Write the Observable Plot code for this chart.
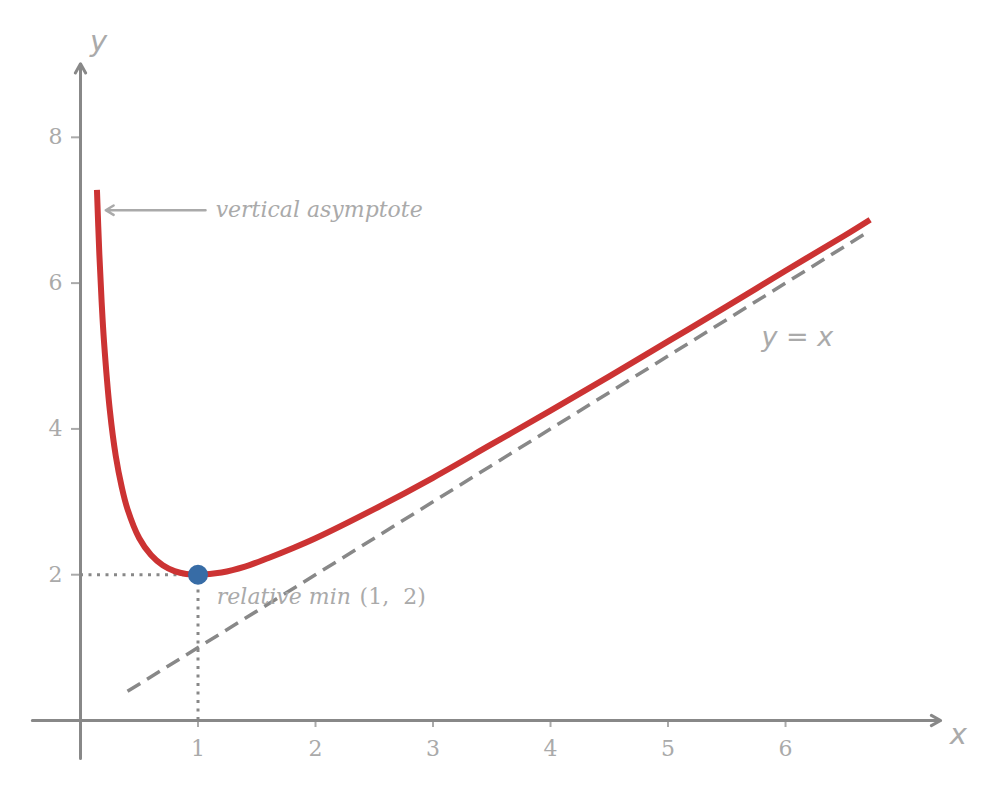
<!DOCTYPE html>
<html>
<head>
<meta charset="utf-8">
<script src="https://cdn.jsdelivr.net/npm/d3@7"></script>
<script src="https://cdn.jsdelivr.net/npm/@observablehq/plot@0.6"></script>
<style>
  html, body { margin: 0; padding: 0; background: #fff; }
  #chart svg { display: block; }
</style>
</head>
<body>
<div id="chart"></div>
<script>
// Curve f(x)
const curveX = [0.14, 0.16, 0.18, 0.20, 0.25, 0.30, 0.35, 0.40, 0.50, 0.60, 0.70, 0.80, 0.90, 1.00, 1.20, 1.40, 1.60, 1.80, 2.00, 2.50, 3.00, 3.50, 4.00, 4.50, 5.00, 5.50, 6.00, 6.50, 6.72];
const curveY = [7.28, 6.41, 5.74, 5.20, 4.25, 3.63, 3.21, 2.90, 2.50, 2.27, 2.13, 2.05, 2.01, 2.00, 2.03, 2.11, 2.23, 2.36, 2.50, 2.90, 3.33, 3.79, 4.25, 4.72, 5.20, 5.68, 6.17, 6.65, 6.87];
// Oblique asymptote y = x (endpoints)
const asymX = [0.40, 6.72];
const asymY = [0.40, 6.72];
// Relative minimum
const minPoint = {x: 1, y: 2};
// Ticks
const xTicks = [1, 2, 3, 4, 5, 6];
const yTicks = [2, 4, 6, 8];
// Labels
const asymptoteLabel = "vertical asymptote";
const minLabel = "relative min";
const minCoords = "(1,\u00a0 2)";
const lineLabel = "y = x";

const curve = curveX.map((x, i) => ({x, y: curveY[i]}));
const asym = asymX.map((x, i) => ({x, y: asymY[i]}));

const grey = "#888";
const light = "#aaa";
const sans = "DejaVu Sans";
const serif = "DejaVu Serif";

const plot = Plot.plot({
  width: 1001,
  height: 792,
  marginLeft: 80,
  marginRight: 0,
  marginTop: 0,
  marginBottom: 72,
  x: {domain: [0, 7.838]},
  y: {domain: [0, 9.877]},
  style: {fontFamily: serif, background: "#fff"},
  marks: [
    // dotted guides to the minimum
    Plot.ruleY([minPoint], {y: "y", x1: 0, x2: "x", stroke: grey, strokeWidth: 3, strokeDasharray: "3,5.5"}),
    Plot.ruleX([minPoint], {x: "x", y1: 0, y2: "y", stroke: grey, strokeWidth: 3, strokeDasharray: "3,5.5"}),
    // tick marks
    Plot.axisX({ticks: xTicks, anchor: "bottom", tickSize: 7, stroke: light, strokeWidth: 2, tickFormat: () => ""}),
    Plot.axisY({ticks: yTicks, anchor: "left", tickSize: 9, stroke: light, strokeWidth: 2, tickFormat: () => ""}),
    // tick labels
    Plot.text(xTicks, {x: d => d, y: 0, dy: 28, text: d => String(d), fontSize: 22, fill: light, fontFamily: serif}),
    Plot.text(yTicks, {x: 0, y: d => d, dx: -25, text: d => String(d), fontSize: 22, fill: light, fontFamily: serif}),
    // axes lines with arrow heads
    Plot.arrow([{x1: -0.41, y1: 0, x2: 7.32, y2: 0}], {x1: "x1", y1: "y1", x2: "x2", y2: "y2", stroke: grey, strokeWidth: 3, headLength: 5.3, headAngle: 58}),
    Plot.arrow([{x1: 0, y1: -0.52, x2: 0, y2: 9.01}], {x1: "x1", y1: "y1", x2: "x2", y2: "y2", stroke: grey, strokeWidth: 3, headLength: 5.3, headAngle: 58}),
    // y = x asymptote
    Plot.line(asym, {x: "x", y: "y", stroke: grey, strokeWidth: 3.5, strokeDasharray: "15,8", strokeLinecap: "butt"}),
    // function
    Plot.line(curve, {x: "x", y: "y", stroke: "#cc3333", strokeWidth: 6, curve: "catmull-rom", strokeLinecap: "butt"}),
    Plot.dot([minPoint], {x: "x", y: "y", r: 10, fill: "#376ca6", stroke: "none"}),
    // annotation arrow
    Plot.arrow([{x1: 1.064, y1: 7.0, x2: 0.215, y2: 7.0}], {x1: "x1", y1: "y1", x2: "x2", y2: "y2", stroke: light, strokeWidth: 2.5, headLength: 5.5, headAngle: 62}),
    Plot.text([{x: 1.15, y: 7.0}], {x: "x", y: "y", text: () => asymptoteLabel, textAnchor: "start", fontSize: 22, fontStyle: "italic", fill: light, fontFamily: serif}),
    Plot.text([{x: 1.16, y: 1.69}], {x: "x", y: "y", text: () => minLabel, textAnchor: "start", fontSize: 22, fontStyle: "italic", fill: light, fontFamily: serif}),
    Plot.text([{x: 2.375, y: 1.69}], {x: "x", y: "y", text: () => minCoords, textAnchor: "start", fontSize: 22, fill: light, fontFamily: serif}),
    // axis & line labels
    Plot.text([{x: 0.153, y: 9.31}], {x: "x", y: "y", text: () => "y", fontSize: 29, fontStyle: "italic", fill: light, fontFamily: sans}),
    Plot.text([{x: 7.47, y: -0.2}], {x: "x", y: "y", text: () => "x", fontSize: 29, fontStyle: "italic", fill: light, fontFamily: sans}),
    Plot.text([{x: 6.10, y: 5.26}], {x: "x", y: "y", text: () => lineLabel, fontSize: 27, fontStyle: "italic", fill: light, fontFamily: sans})
  ]
});
document.getElementById("chart").appendChild(plot);
</script>
</body>
</html>
